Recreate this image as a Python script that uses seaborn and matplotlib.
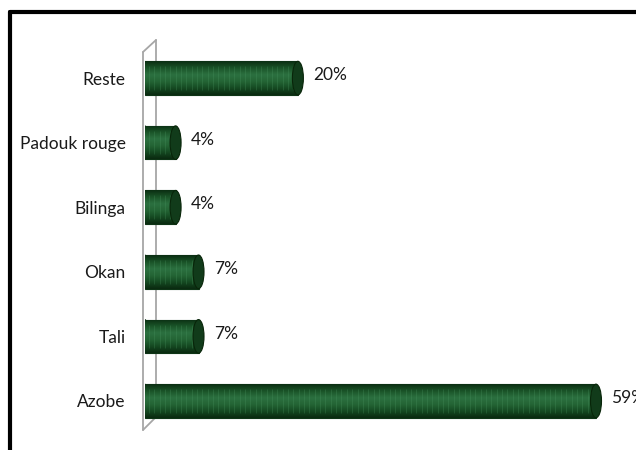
import matplotlib
matplotlib.use("Agg")
import matplotlib.pyplot as plt
import matplotlib.patches as mpatches
from matplotlib.lines import Line2D
from matplotlib.colors import LinearSegmentedColormap
import numpy as np
import pandas as pd
import seaborn as sns

categories = ["Reste", "Padouk rouge", "Bilinga", "Okan", "Tali", "Azobe"]
values = [20, 4, 4, 7, 7, 59]
labels = ["20%", "4%", "4%", "7%", "7%", "59%"]

sns.set_theme(style="white")
plt.rcParams["font.family"] = ["Lato", "DejaVu Sans"]

df = pd.DataFrame({"cat": categories, "val": values})

W, H = 636, 450
fig = plt.figure(figsize=(W / 100, H / 100), dpi=100)
fig.patch.set_facecolor("white")

# outer black frame (only top and left visible)
fig.add_artist(Line2D([9.5 / W, 9.5 / W], [0, 1 - 12 / H], transform=fig.transFigure,
                      color="black", lw=3))
fig.add_artist(Line2D([9.5 / W, 1], [1 - 12 / H, 1 - 12 / H], transform=fig.transFigure,
                      color="black", lw=3))

ax_left, ax_right = 145, 636
ax_top, ax_bot = 40, 430
ax = fig.add_axes([ax_left / W, 1 - ax_bot / H, (ax_right - ax_left) / W, (ax_bot - ax_top) / H])
ax.set_facecolor("none")

base = "#1b5428"
sns.barplot(data=df, y="cat", x="val", orient="h", color=base, width=0.52,
            saturation=1, ax=ax, zorder=3, linewidth=0.8, edgecolor="#0e3516")

ax.set_xlim(0, 59 * (ax_right - ax_left) / (603 - 7 - ax_left))
ax.set_ylim(5.45, -0.59)

for s in ax.spines.values():
    s.set_visible(False)
ax.set_xticks([])
ax.set_xlabel("")
ax.set_ylabel("")
ax.tick_params(axis="y", length=0, pad=14, labelsize=12.5, labelcolor="#1a1a1a")

# 3D wall lines
wall_col = "#a6a6a6"
ax_w = ax_right - ax_left
ax_h = ax_bot - ax_top
def afx(px):
    return (px - ax_left) / ax_w
def afy(py):
    return (ax_bot - py) / ax_h
wall_pts = [
    ([afx(143), afx(143)], [afy(430), afy(52)]),
    ([afx(143), afx(156)], [afy(52), afy(40)]),
    ([afx(156), afx(156)], [afy(40), afy(417)]),
    ([afx(143), afx(156)], [afy(430), afy(417)]),
]
for xs, ys in wall_pts:
    ax.add_line(Line2D(xs, ys, transform=ax.transAxes, color=wall_col, lw=1.3,
                       clip_on=False, zorder=1))

# cylinder shading
cmap = LinearSegmentedColormap.from_list(
    "cyl", ["#0b2e12", "#1a5428", "#2c7040", "#246535", "#154a22", "#0a2a10"])
grad = np.linspace(0, 1, 64).reshape(-1, 1)
px_per_unit = ax.transData.transform((1, 0))[0] - ax.transData.transform((0, 0))[0]
bars = [p for p in ax.patches if isinstance(p, mpatches.Rectangle)]
for p, lab in zip(bars, labels):
    x0, y0, w, h = p.get_x(), p.get_y(), p.get_width(), p.get_height()
    im = ax.imshow(grad, cmap=cmap, aspect="auto", extent=(x0, x0 + w, y0 + h, y0),
                   zorder=4, interpolation="bicubic")
    im.set_clip_path(p)
    # subtle scale texture
    xs = np.arange(x0 + 0.5, x0 + w, 0.7)
    ax.vlines(xs, y0 + h * 0.15, y0 + h * 0.85, colors="#4f9a66", lw=0.6, alpha=0.3, zorder=5)
    cap_w = 11 / px_per_unit
    cap = mpatches.Ellipse((x0 + w, y0 + h / 2), cap_w, h, facecolor="#113b1a",
                           edgecolor="#082509", lw=0.8, zorder=6)
    ax.add_patch(cap)
    lcap = mpatches.Ellipse((x0, y0 + h / 2), cap_w * 0.6, h, facecolor="#1a5528",
                            edgecolor="#0a2a10", lw=0.6, zorder=3)
    ax.add_patch(lcap)
    ax.annotate(lab, xy=(x0 + w, y0 + h / 2), xytext=(11, 2), textcoords="offset points",
                ha="left", va="center", fontsize=12.5, color="#1a1a1a", zorder=7,
                annotation_clip=False)

fig.savefig("out.png", dpi=100, facecolor="white")
